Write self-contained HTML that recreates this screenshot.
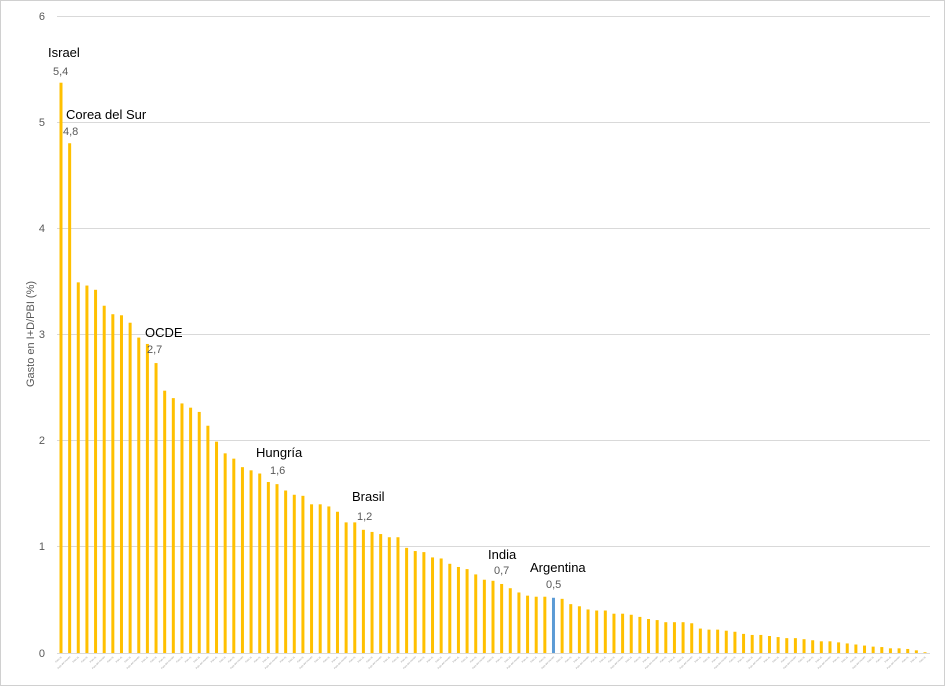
<!DOCTYPE html>
<html><head><meta charset="utf-8"><style>
body{margin:0;background:#fff}
svg{display:block;font-family:"Liberation Sans",sans-serif}
</style></head><body>
<svg id="s" width="945" height="686" xmlns="http://www.w3.org/2000/svg">
<rect x="0.5" y="0.5" width="944" height="685" fill="#fff" stroke="#d0d0d0"/>
<g stroke="#d9d9d9" stroke-width="1">
<line x1="57" x2="930" y1="16.5" y2="16.5"/>
<line x1="57" x2="930" y1="122.5" y2="122.5"/>
<line x1="57" x2="930" y1="228.5" y2="228.5"/>
<line x1="57" x2="930" y1="334.5" y2="334.5"/>
<line x1="57" x2="930" y1="440.5" y2="440.5"/>
<line x1="57" x2="930" y1="546.5" y2="546.5"/>
<line x1="57" x2="930" y1="653.5" y2="653.5"/>
</g>
<g font-size="11" fill="#595959" text-anchor="end">
<text x="45" y="20">6</text><text x="45" y="126">5</text><text x="45" y="232">4</text>
<text x="45" y="338">3</text><text x="45" y="444">2</text><text x="45" y="550">1</text><text x="45" y="657">0</text>
</g>
<text transform="translate(34,334) rotate(-90)" font-size="11" fill="#595959" text-anchor="middle">Gasto en I+D/PBI (%)</text>
<g id="bars"></g>
<g id="ticks" font-size="2.5" fill="#999"></g>
<g font-size="13" fill="#000">
<text x="48" y="57">Israel</text>
<text x="66" y="119">Corea del Sur</text>
<text x="145" y="337">OCDE</text>
<text x="256" y="457">Hungría</text>
<text x="352" y="501">Brasil</text>
<text x="488" y="559">India</text>
<text x="530" y="572">Argentina</text>
</g>
<g font-size="11" fill="#595959">
<text x="53" y="75">5,4</text>
<text x="63" y="135">4,8</text>
<text x="147" y="353">2,7</text>
<text x="270" y="474">1,6</text>
<text x="357" y="520">1,2</text>
<text x="494" y="574">0,7</text>
<text x="546" y="588">0,5</text>
</g>
</svg>
<script>
var v=[5.37,4.8,3.49,3.46,3.42,3.27,3.19,3.18,3.11,2.97,2.91,2.73,2.47,2.40,2.35,2.31,2.27,2.14,1.99,1.88,1.83,1.75,1.72,1.69,1.61,1.59,1.53,1.49,1.48,1.40,1.40,1.38,1.33,1.23,1.23,1.16,1.14,1.12,1.09,1.09,0.99,0.96,0.95,0.90,0.89,0.84,0.81,0.79,0.74,0.69,0.68,0.65,0.61,0.57,0.54,0.53,0.53,0.52,0.51,0.46,0.44,0.41,0.40,0.40,0.37,0.37,0.36,0.34,0.32,0.31,0.29,0.29,0.29,0.28,0.23,0.22,0.22,0.21,0.20,0.18,0.17,0.17,0.16,0.15,0.14,0.14,0.13,0.12,0.11,0.11,0.10,0.09,0.08,0.07,0.06,0.056,0.044,0.044,0.038,0.025,0.007];
var ns="http://www.w3.org/2000/svg",b=document.getElementById("bars"),t=document.getElementById("ticks");
for(var i=0;i<v.length;i++){var x=61+i*8.64,h=v[i]*106.2;
var r=document.createElementNS(ns,"rect");r.setAttribute("x",x-1.5);r.setAttribute("y",653-h);r.setAttribute("width",3);r.setAttribute("height",h);
r.setAttribute("fill",i==57?"#5b9bd5":"#ffc000");b.appendChild(r);
var tx=document.createElementNS(ns,"text");tx.setAttribute("transform","translate("+(x+1)+",657) rotate(-45)");tx.setAttribute("text-anchor","end");tx.textContent=(i%4==1)?"País del mundo":"País ej.";t.appendChild(tx);}
</script>
</body></html>
